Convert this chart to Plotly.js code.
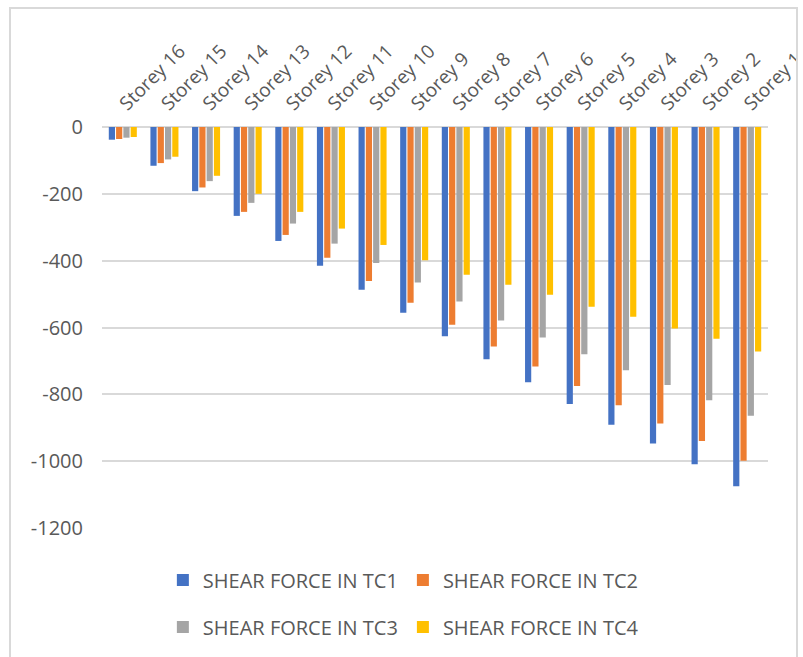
<!DOCTYPE html>
<html>
<head>
<meta charset="utf-8">
<script src="https://cdn.plot.ly/plotly-3.0.1.min.js"></script>
<style>
  html, body { margin: 0; padding: 0; background: #fff; }
  #wrap { position: relative; width: 803px; height: 657px; overflow: hidden; }
  #chart { position: absolute; left: 0; top: 0; width: 803px; height: 657px; }
  #frame { position: absolute; left: 9px; top: 7px; width: 785px; height: 700px;
           border: 2.5px solid #d9d9d9; pointer-events: none; }
  #mask { position: absolute; left: 797px; top: 0; width: 10px; height: 657px; background: #fff; }
</style>
</head>
<body>
<div id="wrap">
  <div id="chart"></div>
  <div id="mask"></div>
  <div id="frame"></div>
</div>
<script>
const storeys = ['Storey 16','Storey 15','Storey 14','Storey 13','Storey 12','Storey 11','Storey 10','Storey 9',
                 'Storey 8','Storey 7','Storey 6','Storey 5','Storey 4','Storey 3','Storey 2','Storey 1'];
const tc1 = [-38, -116, -192, -266, -341, -415, -487, -556, -626, -695, -764, -829, -891, -947, -1009, -1075];
const tc2 = [-36, -108, -181, -254, -323, -391, -461, -526, -592, -657, -717, -775, -833, -887, -940, -999];
const tc3 = [-32, -97, -162, -227, -289, -349, -407, -465, -522, -579, -630, -680, -728, -772, -818, -864];
const tc4 = [-30, -89, -146, -200, -254, -304, -353, -399, -442, -472, -502, -538, -568, -603, -634, -672];
const seriesNames = ['SHEAR FORCE IN TC1','SHEAR FORCE IN TC2','SHEAR FORCE IN TC3','SHEAR FORCE IN TC4'];
const colors = ['#4472C4','#ED7D31','#A5A5A5','#FFC000'];
const yTicks = [0, -200, -400, -600, -800, -1000, -1200];

const values = [tc1, tc2, tc3, tc4];
const legendIds = ['legend','legend','legend2','legend2'];
const traces = values.map((v, i) => ({
  type: 'bar',
  x: storeys,
  y: v,
  name: seriesNames[i],
  legend: legendIds[i],
  marker: { color: colors[i], line: { width: 0 } },
  hoverinfo: 'x+y+name'
}));

const txt = '#595959';
const fam = '"Open Sans", "Liberation Sans", sans-serif';
const legendCommon = {
  orientation: 'h',
  xanchor: 'center',
  yanchor: 'middle',
  x: 0.4525,
  font: { family: fam, size: 20, color: txt },
  bgcolor: 'rgba(0,0,0,0)',
  itemclick: false
};

const layout = {
  width: 803,
  height: 657,
  margin: { l: 102, r: 35, t: 127, b: 128 },
  paper_bgcolor: 'rgba(0,0,0,0)',
  plot_bgcolor: '#fff',
  barmode: 'group',
  bargap: 0.3,
  bargroupgap: 0.15,
  font: { family: fam, color: txt },
  xaxis: {
    side: 'top',
    type: 'category',
    tickangle: -45,
    tickfont: { family: fam, size: 19, color: txt },
    showgrid: false,
    showline: false,
    zeroline: false,
    ticks: '',
    ticklabelstandoff: 8,
    ticklabelshift: -2,
    automargin: false
  },
  yaxis: {
    range: [-1200, 0],
    tickvals: yTicks,
    ticktext: yTicks.map(String),
    tickfont: { family: fam, size: 20, color: txt },
    showgrid: true,
    gridcolor: '#d9d9d9',
    gridwidth: 2,
    zeroline: true,
    zerolinecolor: '#d9d9d9',
    zerolinewidth: 2,
    showline: false,
    ticks: '',
    ticklabelstandoff: 18,
    automargin: false
  },
  showlegend: true,
  legend: Object.assign({}, legendCommon, { y: -0.127 }),
  legend2: Object.assign({}, legendCommon, { y: -0.244 })
};

Plotly.newPlot('chart', traces, layout, { displayModeBar: false, staticPlot: false });
</script>
</body>
</html>
